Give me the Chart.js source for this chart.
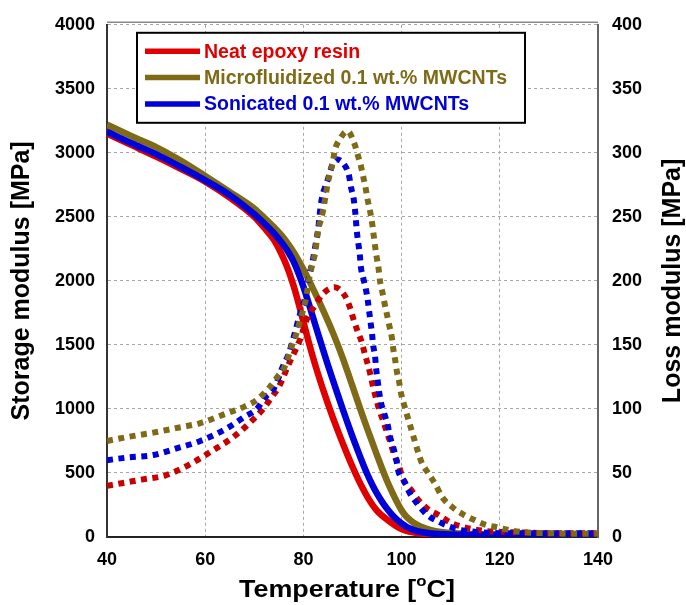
<!DOCTYPE html>
<html>
<head>
<meta charset="utf-8">
<script src="https://cdn.jsdelivr.net/npm/chart.js@4.4.1/dist/chart.umd.min.js"></script>
<style>
  html, body { margin: 0; padding: 0; background: #fff; }
</style>
</head>
<body>
<canvas id="dmaChart" width="686" height="605"></canvas>
<script>
// storage modulus (solid lines, left axis) - temperature / MPa
const neatStorageT = [40, 45, 50, 55, 60, 65, 70, 72, 74, 75, 76, 77, 78, 79, 80, 81, 82, 83, 84, 85, 86, 87, 88, 89, 90, 91, 92, 93, 94, 95, 96, 97, 98, 99, 100, 101, 102, 104, 106, 110, 120, 130, 140];
const neatStorage = [3150, 3060, 2970, 2875, 2775, 2650, 2500, 2415, 2320, 2252, 2172, 2077, 1962, 1827, 1681, 1534, 1397, 1270, 1152, 1040, 933, 831, 733, 639, 549, 464, 386, 315, 255, 205, 168, 138, 108, 83, 62, 48, 38, 28, 23, 18, 15, 14, 13];

const microStorageT = [40, 45, 50, 55, 60, 65, 70, 72, 74, 76, 78, 80, 81, 82, 83, 84, 85, 86, 87, 88, 89, 90, 91, 92, 93, 94, 95, 96, 97, 98, 99, 100, 101, 102, 103, 104, 106, 108, 110, 115, 120, 130, 140];
const microStorage = [3220, 3130, 3045, 2940, 2820, 2695, 2565, 2495, 2420, 2335, 2225, 2090, 2015, 1936, 1855, 1772, 1686, 1596, 1500, 1398, 1290, 1178, 1065, 954, 846, 742, 637, 537, 442, 356, 277, 208, 158, 124, 99, 80, 54, 39, 31, 23, 19, 16, 15];

const soniStorageT = [40, 45, 50, 55, 60, 65, 70, 72, 74, 76, 77, 78, 79, 80, 81, 82, 83, 84, 85, 86, 87, 88, 89, 90, 91, 92, 93, 94, 95, 96, 97, 98, 99, 100, 101, 102, 103, 104, 106, 110, 120, 130, 140];
const soniStorage = [3165, 3075, 2990, 2890, 2785, 2670, 2520, 2450, 2372, 2278, 2220, 2150, 2060, 1955, 1835, 1710, 1585, 1462, 1342, 1226, 1112, 1000, 890, 784, 682, 584, 492, 410, 338, 276, 222, 176, 138, 106, 80, 62, 48, 39, 28, 20, 16, 15, 14];

// loss modulus (dotted lines, right axis) - temperature / MPa
const neatLossT = [40, 43, 47.3, 51.8, 56.5, 61.3, 65.7, 70.1, 72, 73.5, 75.1, 76.9, 78.5, 79.3, 80.7, 82.4, 84, 86.4, 88.5, 89.5, 90.2, 91, 91.9, 92.5, 93.1, 93.7, 94.2, 94.8, 95.4, 96.3, 97, 97.8, 98.5, 99.5, 100.2, 101.9, 103.4, 105.3, 107.6, 110.1, 112.4, 114.8, 117.3, 120, 125, 130, 135, 140];
const neatLoss = [40, 42, 45, 48, 56, 67, 78, 93, 101, 109, 118, 134, 147, 154, 170, 181, 190, 195, 188, 179, 170, 161, 152, 143, 135, 126, 117, 108, 100, 90, 82, 73, 64, 55, 46, 37, 29, 22, 17, 11, 8, 6, 4.6, 4, 3.5, 3, 3, 3];

const microLossT = [40, 44, 49.4, 54, 59, 64, 68.1, 70.5, 72.9, 74.7, 76.3, 77.8, 78.6, 79.3, 80, 80.5, 81.3, 81.8, 82.4, 82.7, 83, 83.6, 84.1, 84.5, 84.9, 85.4, 86, 86.4, 87.3, 89, 90.4, 91.1, 91.7, 92.2, 92.7, 93.1, 93.6, 94, 94.3, 94.6, 94.9, 95.3, 95.6, 96.1, 96.5, 97, 97.5, 98, 98.3, 98.7, 99, 99.5, 99.9, 100.6, 101.9, 102.6, 103.3, 104.1, 105.4, 106.9, 108.3, 110.3, 112.6, 115, 117.2, 119.6, 121.9, 124.2, 126.7, 130, 135, 140];
const microLoss = [75, 78, 81.5, 85, 89, 96, 102, 107, 116, 125, 134, 151, 159, 169, 178, 186, 204, 213, 222, 231, 240, 248, 257, 266, 275, 284, 293, 302, 310, 317, 307, 298, 290, 281, 272, 263, 254, 245, 236, 227, 219, 210, 200, 191, 183, 174, 165, 156, 147, 138, 130, 121, 112, 102, 85, 76, 67, 58, 50, 41, 31, 23.4, 17.5, 13, 9.5, 7.5, 5.4, 4, 3.3, 3, 2.5, 2.5];

const soniLossT = [40, 44, 49.4, 54, 59, 64, 68.1, 70.5, 72.2, 74, 75.9, 77, 78.3, 79, 79.7, 80.3, 80.8, 81.3, 81.8, 82.6, 83, 83.5, 83.9, 84.7, 86.6, 88.1, 89.3, 89.7, 90.2, 90.5, 90.7, 90.9, 91.2, 91.5, 91.7, 92.2, 92.7, 93.1, 93.4, 93.7, 94, 94.2, 94.6, 94.8, 95.1, 95.4, 95.8, 96.5, 97.2, 97.6, 98.3, 98.9, 99.3, 100.6, 101.7, 103.1, 105.3, 107.5, 109.9, 112.2, 115, 120, 130, 140];
const soniLoss = [60, 62, 64, 69, 75, 84, 94, 100, 109, 116, 134, 143, 160, 170, 179, 186, 196, 206, 214, 231, 240, 258, 267, 276, 295, 292, 282, 273, 265, 256, 247, 238, 229, 220, 211, 202, 194, 185, 176, 167, 158, 150, 141, 132, 123, 114, 105, 96, 87, 79, 70, 61, 52, 43, 34, 26.5, 17, 12, 8, 5.4, 4, 3, 3, 3];

const seriesLabels = ["Neat epoxy resin", "Microfluidized 0.1 wt.% MWCNTs", "Sonicated 0.1 wt.% MWCNTs"];
const xTicks = [40, 60, 80, 100, 120, 140];
const leftTitle = "Storage modulus [MPa]";
const rightTitle = "Loss modulus [MPa]";

const RED = "#e00000";
const RED_DOT = "#c80000";
const OLIVE = "#7f6a17";
const BLUE = "#0000d8";

const FONT = "'Liberation Sans', Arial, sans-serif";

function pts(xs, ys) {
  return xs.map((x, i) => ({ x, y: ys[i] }));
}

function solid(label, xs, ys, color, order) {
  return {
    label, data: pts(xs, ys), yAxisID: "y",
    borderColor: color, borderWidth: 6.5, pointRadius: 0,
    cubicInterpolationMode: "monotone", fill: false, order
  };
}

function dotted(label, xs, ys, color, order) {
  return {
    label, data: pts(xs, ys), yAxisID: "y1",
    borderColor: color, borderWidth: 6, borderDash: [6, 5.5], borderCapStyle: "butt",
    pointRadius: 0, cubicInterpolationMode: "monotone", fill: false, order
  };
}

// legend inside the plot (only the storage curves), titles, top frame line
const extras = {
  id: "extras",
  afterDatasetsDraw(chart) {
    const { ctx, chartArea } = chart;
    const left = chartArea.left + 30, top = chartArea.top + 8;
    ctx.save();
    ctx.fillStyle = "#fff";
    ctx.fillRect(left, top, 388, 90);
    ctx.lineWidth = 2;
    ctx.strokeStyle = "#000";
    ctx.strokeRect(left, top, 388, 90);
    const colors = [RED, OLIVE, BLUE];
    ctx.font = "bold 19.5px " + FONT;
    ctx.textBaseline = "middle";
    seriesLabels.forEach((label, i) => {
      const y = top + 18.5 + i * 26.3;
      ctx.strokeStyle = colors[i];
      ctx.lineWidth = 5.5;
      ctx.beginPath();
      ctx.moveTo(left + 8, y);
      ctx.lineTo(left + 63, y);
      ctx.stroke();
      ctx.fillStyle = colors[i];
      ctx.fillText(label, left + 67, y + 1);
    });
    ctx.restore();
  },
  afterDraw(chart) {
    const { ctx, chartArea } = chart;
    const midY = (chartArea.top + chartArea.bottom) / 2;
    ctx.save();
    ctx.strokeStyle = "#888";
    ctx.lineWidth = 1.5;
    ctx.beginPath();
    ctx.moveTo(chartArea.left, chartArea.top - 2.5);
    ctx.lineTo(chartArea.right, chartArea.top - 2.5);
    ctx.stroke();

    ctx.fillStyle = "#000";
    ctx.textAlign = "center";
    ctx.textBaseline = "middle";
    ctx.font = "bold 25px " + FONT;
    // both y titles read bottom to top
    [[22, leftTitle], [673, rightTitle]].forEach(([x, text]) => {
      ctx.save();
      ctx.translate(x, midY);
      ctx.rotate(-Math.PI / 2);
      ctx.fillText(text, 0, 0);
      ctx.restore();
    });

    // x title with superscript o
    ctx.textAlign = "left";
    ctx.translate(347, 590);
    ctx.scale(1.12, 1);
    const big = "bold 24px " + FONT, small = "bold 15px " + FONT;
    ctx.font = big;
    const a = "Temperature [", c = "C]";
    const wa = ctx.measureText(a).width, wc = ctx.measureText(c).width;
    ctx.font = small;
    const wo = ctx.measureText("o").width;
    let x = -(wa + wo + wc) / 2;
    ctx.font = big;
    ctx.fillText(a, x, 0);
    x += wa;
    ctx.font = small;
    ctx.fillText("o", x, -8);
    x += wo;
    ctx.font = big;
    ctx.fillText(c, x, 0);
    ctx.restore();
  }
};

const gridStyle = { color: "#a8a8a8", lineWidth: 1, drawTicks: false };
const tickFont = { family: FONT, size: 18, weight: "bold" };
const plain = v => String(v);

new Chart(document.getElementById("dmaChart"), {
  type: "line",
  data: {
    datasets: [
      solid(seriesLabels[0], neatStorageT, neatStorage, RED, 8),
      solid(seriesLabels[1], microStorageT, microStorage, OLIVE, 7),
      solid(seriesLabels[2], soniStorageT, soniStorage, BLUE, 6),
      dotted(seriesLabels[0] + " loss", neatLossT, neatLoss, RED_DOT, 5),
      dotted(seriesLabels[2] + " loss", soniLossT, soniLoss, BLUE, 4),
      dotted(seriesLabels[1] + " loss", microLossT, microLoss, OLIVE, 3)
    ]
  },
  options: {
    responsive: false,
    animation: false,
    devicePixelRatio: 1,
    layout: { padding: { top: 20, left: 0, right: 0, bottom: 0 } },
    plugins: { legend: { display: false }, tooltip: { enabled: false } },
    scales: {
      x: {
        type: "linear", min: 40, max: 140,
        afterBuildTicks: s => { s.ticks = xTicks.map(v => ({ value: v })); },
        afterFit: s => { s.height = 68; },
        grid: gridStyle,
        border: { display: true, color: "#222", width: 2, dash: [3, 3] },
        ticks: { font: tickFont, color: "#000", padding: 12, maxRotation: 0, callback: plain }
      },
      y: {
        position: "left", min: 0, max: 4000,
        afterFit: s => { s.width = 107; },
        grid: gridStyle,
        border: { display: true, color: "#333", width: 2, dash: [3, 3] },
        ticks: { stepSize: 500, font: tickFont, color: "#000", padding: 12, callback: plain }
      },
      y1: {
        position: "right", min: 0, max: 400,
        afterFit: s => { s.width = 88; },
        grid: { drawOnChartArea: false, drawTicks: false },
        border: { display: true, color: "#666", width: 2 },
        ticks: { stepSize: 50, font: tickFont, color: "#000", padding: 14, callback: plain }
      }
    }
  },
  plugins: [extras]
});
</script>
</body>
</html>
